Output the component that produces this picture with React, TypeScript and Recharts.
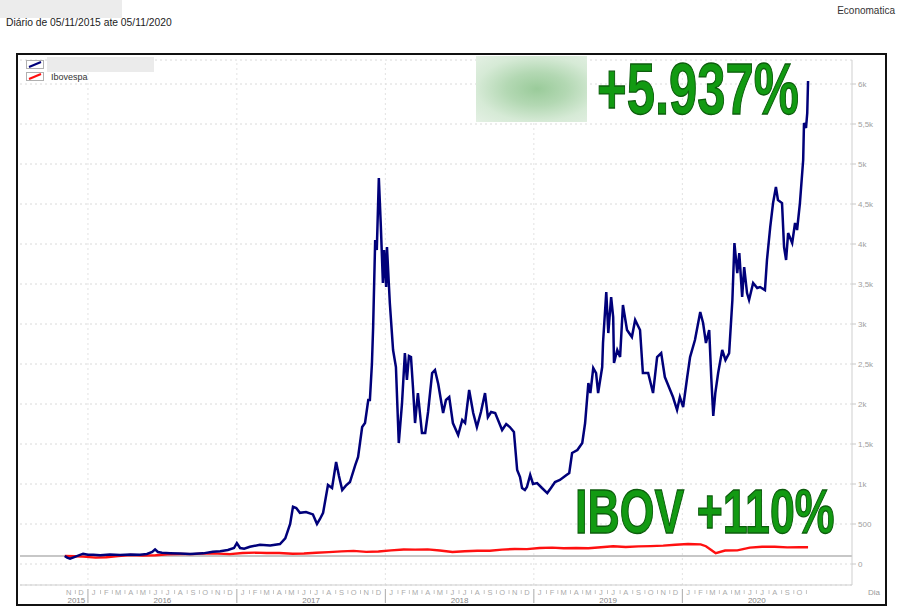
import { LineChart, Line, XAxis, YAxis, CartesianGrid, ReferenceLine } from 'recharts';

// day 0 = 05/11/2015 (first session of the period)
const START = Date.UTC(2015, 10, 5);
const END_DAY = 1827;

const MONTH_LETTERS = ['J', 'F', 'M', 'A', 'M', 'J', 'J', 'A', 'S', 'O', 'N', 'D'];
const YEARS = [2015, 2016, 2017, 2018, 2019, 2020];
const Y_TICKS = [0, 500, 1000, 1500, 2000, 2500, 3000, 3500, 4000, 4500, 5000, 5500, 6000];

const SERIES_NAMES = ['', 'Ibovespa'];
const SERIES_COLORS = ['#00007a', '#ff1010'];
const ANNOTATIONS = ['+5.937%', 'IBOV +110%'];

// fund (name hidden in the original), base 100
const fundDays = [
  0, 6, 13, 25, 45, 57, 70, 87, 111, 136,
  161, 185, 202, 215, 222, 229, 239, 259, 283, 308,
  340, 364, 382, 401, 416, 423, 431, 441, 455, 480,
  505, 529, 542, 554, 561, 569, 578, 593, 610, 620,
  627, 635, 647, 657, 667, 674, 682, 691, 701, 714,
  721, 731, 738, 746, 750, 755, 758, 763, 767, 772,
  777, 782, 785, 790, 792, 799, 807, 814, 821, 829,
  836, 841, 846, 851, 856, 861, 868, 878, 886, 893,
  903, 910, 918, 930, 937, 945, 954, 967, 977, 984,
  994, 1004, 1013, 1023, 1033, 1040, 1048, 1058, 1075, 1085,
  1094, 1104, 1112, 1119, 1124, 1131, 1136, 1144, 1151, 1161,
  1173, 1186, 1195, 1205, 1217, 1230, 1240, 1247, 1260, 1272,
  1279, 1287, 1292, 1299, 1306, 1311, 1321, 1323, 1331, 1336,
  1343, 1348, 1350, 1358, 1365, 1372, 1382, 1394, 1402, 1414,
  1421, 1434, 1446, 1456, 1466, 1475, 1488, 1495, 1505, 1512,
  1520, 1530, 1537, 1549, 1562, 1569, 1576, 1584, 1589, 1594,
  1599, 1606, 1616, 1624, 1633, 1641, 1646, 1653, 1658, 1665,
  1670, 1677, 1682, 1692, 1702, 1709, 1721, 1726, 1734, 1741,
  1748, 1753, 1763, 1768, 1773, 1778, 1788, 1795, 1800, 1807,
  1815, 1817, 1822, 1825, 1827,
];
const fundValues = [
  100, 80, 66, 90, 129, 115, 116, 110, 118, 112,
  120, 115, 125, 150, 183, 150, 140, 135, 130, 125,
  133, 154, 160, 175, 200, 262, 200, 190, 215, 240,
  230, 250, 320, 500, 716, 700, 640, 650, 620, 500,
  560, 640, 987, 950, 1275, 1100, 925, 980, 1025, 1237,
  1337, 1712, 1762, 2050, 2050, 2500, 2962, 4050, 3925, 4825,
  4212, 3512, 3925, 3462, 3962, 3262, 2675, 2462, 1512, 2012,
  2637, 2300, 2600, 2587, 2200, 1762, 2137, 1637, 1637, 1900,
  2387, 2425, 2250, 1887, 2050, 2087, 1762, 1612, 1800, 1762,
  2175, 1887, 1712, 1900, 2137, 1837, 1900, 1887, 1675, 1750,
  1712, 1650, 1175, 1087, 950, 925, 962, 1112, 1000, 1012,
  950, 887, 950, 1025, 1050, 1100, 1137, 1387, 1425, 1512,
  1762, 2262, 2137, 2450, 2387, 2137, 2462, 2762, 3400, 2887,
  3337, 3087, 2512, 2675, 2587, 3237, 2925, 2837, 3050, 2925,
  2387, 2387, 2137, 2587, 2637, 2337, 2175, 2087, 1925, 2087,
  1962, 2337, 2587, 2800, 3150, 3012, 2762, 2925, 2337, 1850,
  2137, 2387, 2675, 2550, 2637, 3300, 4012, 3637, 3887, 3337,
  3712, 3387, 3300, 3512, 3450, 3462, 3425, 3800, 4212, 4512,
  4712, 4550, 4512, 3962, 3800, 4137, 4012, 4262, 4175, 4512,
  5050, 5512, 5450, 5637, 6037,
];

// Ibovespa, base 100
const ibovDays = [
  0, 26, 45, 76, 102, 131, 162, 192, 223, 253,
  284, 315, 345, 376, 406, 437, 468, 496, 527, 560,
  588, 618, 649, 680, 710, 741, 771, 802, 833, 861,
  892, 922, 953, 983, 1014, 1045, 1075, 1106, 1136, 1167,
  1198, 1226, 1257, 1287, 1318, 1348, 1379, 1410, 1440, 1471,
  1501, 1532, 1563, 1576, 1589, 1600, 1623, 1653, 1684, 1714,
  1745, 1776, 1806, 1827,
];
const ibovValues = [
  100, 96, 92, 80, 84, 100, 112, 106, 110, 120,
  125, 124, 133, 130, 123, 137, 142, 138, 137, 129,
  132, 140, 149, 158, 164, 152, 157, 170, 181, 180,
  183, 168, 150, 160, 165, 165, 180, 188, 186, 200,
  205, 196, 200, 196, 210, 222, 212, 220, 224, 230,
  240, 250, 245, 222, 175, 135, 168, 170, 205, 215,
  215, 208, 210, 210,
];

const fundData = fundDays.map((t, i) => ({ t, v: fundValues[i] }));
const ibovData = ibovDays.map((t, i) => ({ t, v: ibovValues[i] }));

const dayOf = (y: number, m: number, d: number) => Math.round((Date.UTC(y, m, d) - START) / 86400000);

// bottom axis: month letters, month separators, year separators and year names
const tickInfo = new Map<number, { kind: string; label?: string }>();
YEARS.forEach((yr) => {
  const jan1 = dayOf(yr, 0, 1);
  const next = dayOf(yr + 1, 0, 1);
  if (jan1 >= 0 && jan1 <= END_DAY) tickInfo.set(jan1, { kind: 'yearSep' });
  tickInfo.set((Math.max(0, jan1) + next) / 2, { kind: 'year', label: String(yr) });
  for (let m = 0; m < 12; m++) {
    const first = dayOf(yr, m, 1);
    const mid = dayOf(yr, m, 15);
    if (m > 0 && first > 0 && first <= END_DAY) tickInfo.set(first, { kind: 'monthSep' });
    if (mid >= 0 && mid <= END_DAY) tickInfo.set(mid, { kind: 'month', label: MONTH_LETTERS[m] });
  }
});
const xTicks = Array.from(tickInfo.keys()).sort((a, b) => a - b);
const yearStarts = YEARS.slice(1).map((yr) => dayOf(yr, 0, 1));

const XTick = ({ x, y, payload }: any) => {
  const info = tickInfo.get(payload.value);
  if (!info) return null;
  if (info.kind === 'yearSep') {
    return <line x1={x} x2={x} y1={y + 4} y2={y + 18} stroke="#aaa" strokeWidth={1} />;
  }
  if (info.kind === 'monthSep') {
    return <line x1={x} x2={x} y1={y + 5} y2={y + 9} stroke="#c4c4c4" strokeWidth={1} />;
  }
  if (info.kind === 'month') {
    return (
      <text x={x} y={y + 9.5} textAnchor="middle" fontSize={7.5} fill="#aaa">
        {info.label}
      </text>
    );
  }
  return (
    <text x={x} y={y + 18} textAnchor="middle" fontSize={8} fill="#888">
      {info.label}
    </text>
  );
};

const formatY = (v: number) => (v < 1000 ? String(v) : String(v / 1000).replace('.', ',') + 'k');

// big green callouts: bold Arial squeezed horizontally (natural width 3.975em / 5.864em)
const Callout = ({ x, y, size, width, ems, text }: any) => (
  <text
    transform={`translate(${x},${y}) scale(${width / (ems * size)},1)`}
    fontSize={size}
    fontWeight="bold"
    fill="#129a12"
    stroke="#0c5c0c"
    strokeWidth={1.3}
  >
    {text}
  </text>
);

export default function App() {
  return (
    <div
      style={{
        position: 'absolute',
        left: 0,
        top: 0,
        width: 900,
        height: 611,
        background: '#fff',
        fontFamily: 'Arial, "Liberation Sans", sans-serif',
        overflow: 'hidden',
      }}
    >
      {/* header */}
      <div style={{ position: 'absolute', left: 0, top: 0, width: 122, height: 18, background: '#ececec' }} />
      <div style={{ position: 'absolute', left: 6, top: 17, fontSize: 10.3, color: '#222' }}>
        Diário de 05/11/2015 ate 05/11/2020
      </div>
      <div style={{ position: 'absolute', right: 5, top: 5, fontSize: 10, color: '#333' }}>Economatica</div>

      {/* frame */}
      <div
        style={{
          position: 'absolute',
          left: 16,
          top: 53,
          width: 871,
          height: 553,
          border: '2px solid #111',
          boxSizing: 'border-box',
        }}
      />

      <div style={{ position: 'absolute', left: 18, top: 55 }}>
        <LineChart width={868} height={549} margin={{ top: 5, right: 2, bottom: 0, left: 2 }}>
          <CartesianGrid vertical={false} stroke="#dadada" strokeDasharray="2 3" />
          {yearStarts.map((t) => (
            <ReferenceLine key={t} x={t} stroke="#e2e2e2" strokeDasharray="2 3" />
          ))}
          <XAxis
            type="number"
            dataKey="t"
            domain={[-110, 1935]}
            allowDataOverflow
            ticks={xTicks}
            interval={0}
            tick={XTick}
            tickLine={false}
            tickSize={0}
            tickMargin={0}
            height={19}
            axisLine={{ stroke: '#cfcfcf' }}
          />
          <YAxis
            orientation="right"
            type="number"
            domain={[-262.5, 6300]}
            allowDataOverflow
            ticks={Y_TICKS}
            interval={0}
            width={32}
            tickSize={4}
            tickMargin={2}
            tickFormatter={formatY}
            tick={{ fontSize: 8, fill: '#a0a0a0', textAnchor: 'start' }}
            tickLine={{ stroke: '#c8c8c8' }}
            axisLine={{ stroke: '#cfcfcf' }}
          />
          <ReferenceLine y={100} stroke="#b4b4b4" strokeWidth={1.5} />
          <Line
            data={ibovData}
            dataKey="v"
            type="linear"
            stroke={SERIES_COLORS[1]}
            strokeWidth={2.4}
            dot={false}
            isAnimationActive={false}
          />
          <Line
            data={fundData}
            dataKey="v"
            type="linear"
            stroke={SERIES_COLORS[0]}
            strokeWidth={2.5}
            dot={false}
            isAnimationActive={false}
          />
        </LineChart>
      </div>

      {/* legend */}
      {SERIES_NAMES.map((name, i) => (
        <div key={i} style={{ position: 'absolute', left: 26, top: 60 + i * 12 }}>
          <svg width={18} height={9} style={{ display: 'block' }}>
            <rect x={0.5} y={0.5} width={17} height={8} fill="#fff" stroke="#b0b0b0" />
            <line x1={3} y1={7} x2={15} y2={2} stroke={SERIES_COLORS[i]} strokeWidth={2} />
          </svg>
        </div>
      ))}
      <div style={{ position: 'absolute', left: 47, top: 57, width: 107, height: 15, background: '#ebebeb' }} />
      <div style={{ position: 'absolute', left: 51, top: 72, fontSize: 9, color: '#333' }}>{SERIES_NAMES[1]}</div>
      <div style={{ position: 'absolute', left: 868, top: 588, fontSize: 8, color: '#999' }}>Dia</div>

      {/* hidden fund logo */}
      <div
        style={{
          position: 'absolute',
          left: 476,
          top: 56,
          width: 111,
          height: 66,
          background:
            'radial-gradient(ellipse at 55% 50%, #9acb9a 0%, #b3d8b3 35%, #d6ead6 70%, #e4f0e4 100%)',
        }}
      />

      <svg width={900} height={611} style={{ position: 'absolute', left: 0, top: 0, pointerEvents: 'none' }}>
        <Callout x={597} y={114} size={73} width={202} ems={3.975} text={ANNOTATIONS[0]} />
        <Callout x={575} y={533} size={63} width={262} ems={5.864} text={ANNOTATIONS[1]} />
      </svg>
    </div>
  );
}
